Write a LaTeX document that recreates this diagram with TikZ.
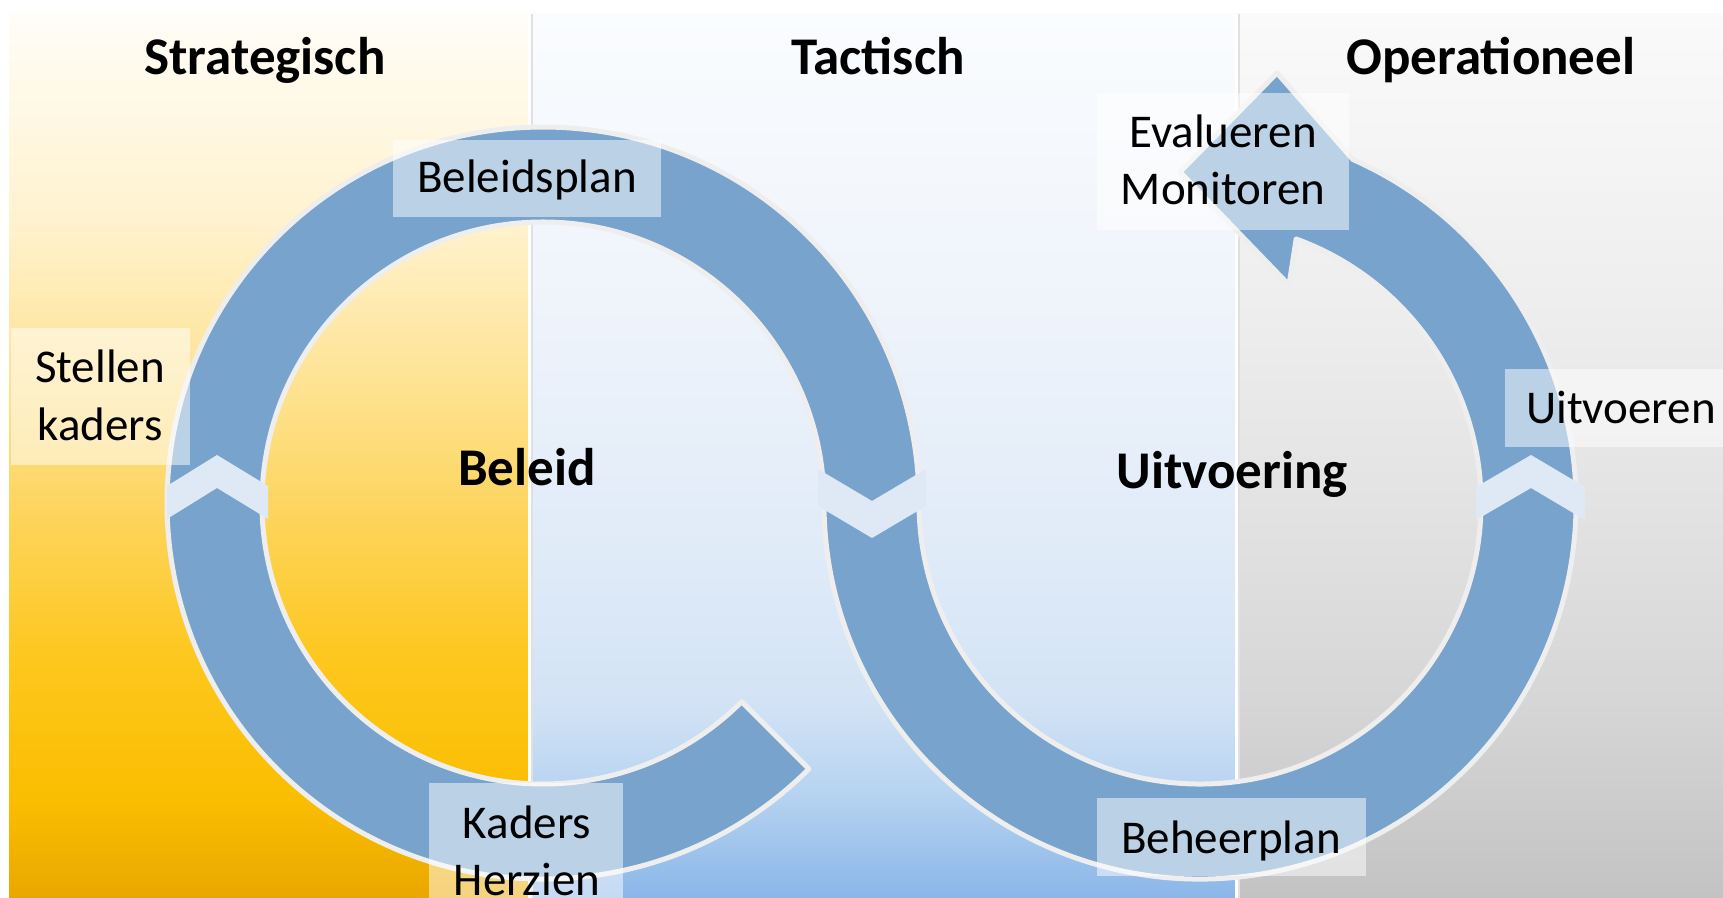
\documentclass[tikz,border=0pt]{standalone}
\usepackage{fontspec}
\setmainfont{Carlito}
\definecolor{bandblue}{HTML}{77A3CC}
\definecolor{bandedge}{HTML}{EEEEEE}
\definecolor{chev}{HTML}{DFE9F5}
\definecolor{ya}{HTML}{EAA700}
\definecolor{yb}{HTML}{FABE00}
\definecolor{yc}{HTML}{FDC71D}
\definecolor{yd}{HTML}{FDD45A}
\definecolor{ye}{HTML}{FEE394}
\definecolor{yf}{HTML}{FFF2CF}
\definecolor{yg}{HTML}{FFFDF7}
\definecolor{ba}{HTML}{8AB6E8}
\definecolor{bb}{HTML}{B8D4F1}
\definecolor{bc}{HTML}{D3E3F5}
\definecolor{bd}{HTML}{E0EBF8}
\definecolor{be}{HTML}{EFF4FB}
\definecolor{bf}{HTML}{FAFCFE}
\definecolor{ga}{HTML}{C3C3C3}
\definecolor{gb}{HTML}{D6D6D6}
\definecolor{gc}{HTML}{E3E3E3}
\definecolor{gd}{HTML}{EEEEEE}
\definecolor{ge}{HTML}{FAFAFA}
\pgfdeclareverticalshading{yelshade}{100bp}{color(0bp)=(ya); color(25bp)=(ya); color(30.54bp)=(yb); color(38.46bp)=(yc); color(46.38bp)=(yd); color(54.30bp)=(ye); color(63.35bp)=(yf); color(75bp)=(yg); color(100bp)=(yg)}
\pgfdeclareverticalshading{blushade}{100bp}{color(0bp)=(ba); color(25bp)=(ba); color(31.11bp)=(bb); color(36.20bp)=(bc); color(44.68bp)=(bd); color(58.82bp)=(be); color(75bp)=(bf); color(100bp)=(bf)}
\pgfdeclareverticalshading{grashade}{100bp}{color(0bp)=(ga); color(25bp)=(ga); color(36.20bp)=(gb); color(47.51bp)=(gc); color(58.82bp)=(gd); color(75bp)=(ge); color(100bp)=(ge)}
\tikzset{
  hdr/.style={font=\fontsize{26.5}{30}\selectfont\bfseries, anchor=base, inner sep=0pt},
  lbl/.style={font=\fontsize{23.5}{28}\selectfont, anchor=base, inner sep=0pt},
  lblbox/.style={fill=white, fill opacity=0.5},
  bandshape/.style={fill=bandblue, draw=bandedge, line width=2.5pt, line join=round},
  chevron/.style={fill=chev},
  divider/.style={white, line width=1.5pt}
}
\begin{document}
\begin{tikzpicture}[x=0.5pt,y=-0.5pt]
\useasboundingbox (0,0) rectangle (1723,898);
\clip (0,0) rectangle (1723,898);
\fill[white] (0,0) rectangle (1723,898);
% panels
\shade[shading=yelshade] (9,14) rectangle (530,898);
\shade[shading=blushade] (529,14) rectangle (1237,898);
\shade[shading=grashade] (1236,14) rectangle (1723,898);
\draw[black!12, line width=1pt] (531.5,14) -- (531.5,898);
\draw[black!12, line width=1pt] (1238.5,14) -- (1238.5,898);
\draw[divider] (529.5,14) -- (529.5,898);
\draw[divider] (1236.5,14) -- (1236.5,898);
% centres
\coordinate (C1) at (543,503);
\coordinate (C2) at (1200,503);
% band
\path[bandshape] (808.9,768.9)
  arc[start angle=45, end angle=360, radius=376]
  arc[start angle=-180, end angle=-430, radius=281]
  -- (1289,285) -- (1180,172) -- (1277,73) -- (1352.9,159.5)
  arc[start angle=-66, end angle=180, radius=376]
  arc[start angle=0, end angle=-315, radius=281]
  -- cycle;
% chevrons
\fill[chevron] (167,486) -- (217,455) -- (268,486) -- (268,519) -- (217,488) -- (167,519) -- cycle;
\fill[chevron] (818,469) -- (872,501) -- (926,469) -- (926,506) -- (872,538) -- (818,506) -- cycle;
\fill[chevron] (1476,487) -- (1531,455) -- (1585,487) -- (1585,520) -- (1531,488) -- (1476,520) -- cycle;
% label boxes
\fill[lblbox] (393,140) rectangle (661,217);
\fill[lblbox] (11,328) rectangle (190,465);
\fill[lblbox] (429,783) rectangle (623,900);
\fill[lblbox] (1097,93) rectangle (1349,230);
\fill[lblbox] (1505,369) rectangle (1725,447);
\fill[lblbox] (1097,798) rectangle (1366,876);
% headers
\node[hdr] (hS) at (265,75) {Strategisch};
\node[hdr] (hT) at (878,75) {Tactisch};
\node[hdr] (hO) at (1491,75) {Operationeel};
\node[hdr] (beleid) at (527,485) {Beleid};
\node[hdr] (uitvoering) at (1232,488) {Uitvoering};
% labels
\node[lbl] (beleidsplan) at (527,193) {Beleidsplan};
\node[lbl] (stellen) at (100,383) {Stellen};
\node[lbl] (kaders) at (100,440) {kaders};
\node[lbl] (evalueren) at (1223,148) {Evalueren};
\node[lbl] (monitoren) at (1223,205) {Monitoren};
\node[lbl] (uitvoeren) at (1621,423) {Uitvoeren};
\node[lbl] (beheerplan) at (1231,853) {Beheerplan};
\node[lbl] (kadersH) at (527,838) {Kaders};
\node[lbl] (herzien) at (527,895) {Herzien};
\end{tikzpicture}
\end{document}
